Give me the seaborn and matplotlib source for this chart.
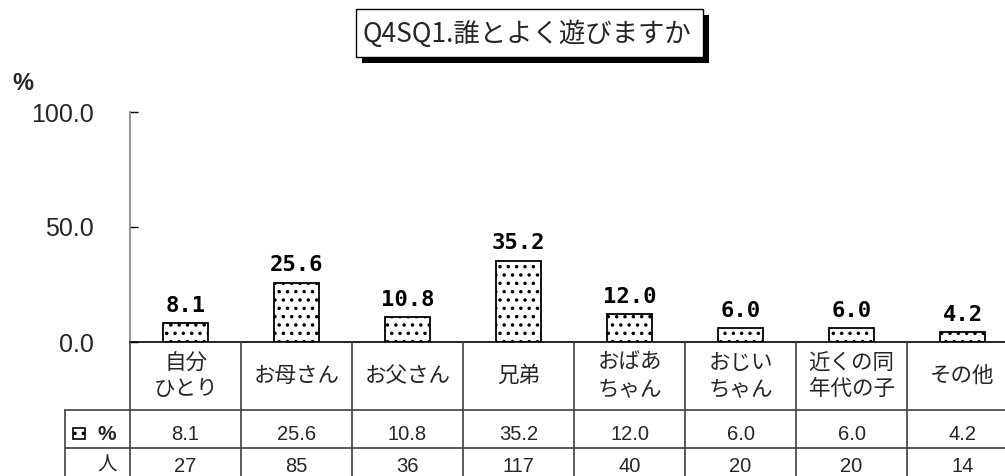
import matplotlib
matplotlib.use("Agg")
import numpy as np
import pandas as pd
import matplotlib.pyplot as plt
import matplotlib.transforms as mtransforms
from matplotlib.patches import Rectangle
from matplotlib.lines import Line2D
import seaborn as sns

# ---- data ----
categories = ["自分\nひとり", "お母さん", "お父さん", "兄弟", "おばあ\nちゃん",
              "おじい\nちゃん", "近くの同\n年代の子", "その他"]
percent = [8.1, 25.6, 10.8, 35.2, 12.0, 6.0, 6.0, 4.2]
counts = [27, 85, 36, 117, 40, 20, 20, 14]
yticks = [0, 50, 100]
title = "Q4SQ1.誰とよく遊びますか"
row_labels = ["%", "人"]

# ---- style ----
sns.set_theme(style="white")
plt.rcParams["font.family"] = ["Noto Sans CJK JP", "DejaVu Sans"]
plt.rcParams["hatch.color"] = "black"
plt.rcParams["hatch.linewidth"] = 1.3

W, H = 1005, 476
fig = plt.figure(figsize=(W / 100, H / 100), dpi=100)


def fx(px):
    return px / W


def fy(py):
    return 1 - py / H


# plot area in pixels: left edge, column width, baseline, top of scale
X0, UNIT, YB, YT = 130, 111, 342, 112
ax = fig.add_axes([fx(X0), fy(YB), 8 * UNIT / W, (YB - YT) / H])

df = pd.DataFrame({"cat": categories, "pct": percent})
sns.barplot(data=df, x="cat", y="pct", color="white", edgecolor="black",
            linewidth=1.3, width=0.41, saturation=1, ax=ax)
for p in ax.patches:
    p.set_facecolor("white")
    p.set_hatch("..")

ax.set_xlim(-0.5, 7.5)
ax.set_ylim(0, 100)
ax.set_xlabel("")
ax.set_ylabel("")
ax.set_xticks([])
ax.set_yticks(yticks)
ax.set_yticklabels([f"{t:.1f}" for t in yticks], fontfamily="Liberation Sans",
                   fontsize=18)
ax.tick_params(axis="y", direction="in", length=6, width=1, pad=26,
               color="black", left=True)
for s in ["top", "right"]:
    ax.spines[s].set_visible(False)
ax.spines["left"].set_color("#808080")
ax.spines["left"].set_linewidth(1.2)
ax.spines["bottom"].set_color("black")
ax.spines["bottom"].set_linewidth(1.2)
ax.patch.set_alpha(0)

# value labels above bars
for i, v in enumerate(percent):
    ax.annotate(f"{v:.1f}", (i, v), xytext=(0, 5.5), textcoords="offset points",
                ha="center", va="bottom", fontfamily="DejaVu Sans Mono",
                fontweight="bold", fontsize=16, color="black")

# data table under the axis
bt = mtransforms.blended_transform_factory(ax.transData, fig.transFigure)
line_kw = dict(color="#404040", linewidth=1.2)
for b in np.arange(-0.5, 8, 1.0):
    fig.add_artist(Line2D([b, b], [fy(YB), fy(H)], transform=bt, **line_kw))
for yy in [410, 448]:
    fig.add_artist(Line2D([fx(65), 1.0], [fy(yy), fy(yy)],
                          transform=fig.transFigure, **line_kw))
fig.add_artist(Line2D([fx(65), fx(65)], [fy(410), fy(H)],
                      transform=fig.transFigure, **line_kw))

for i, (c, v, n) in enumerate(zip(categories, percent, counts)):
    fig.text(i, fy(376), c, transform=bt, ha="center", va="center",
             fontsize=15.5, linespacing=1.2, multialignment="center")
    fig.text(i, fy(434), f"{v:.1f}", transform=bt, ha="center", va="center",
             fontfamily="Liberation Sans", fontsize=14.5)
    fig.text(i, fy(466), f"{n}", transform=bt, ha="center", va="center",
             fontfamily="Liberation Sans", fontsize=14.5)

# row headers
fig.add_artist(Rectangle((fx(73), fy(439)), fx(12), 11 / H, facecolor="white",
                         edgecolor="black", linewidth=1.2, hatch="..",
                         transform=fig.transFigure))
fig.text(fx(97), fy(434), row_labels[0], ha="left", va="center",
         fontfamily="Liberation Sans", fontweight="bold", fontsize=15)
fig.text(fx(107), fy(465), row_labels[1], ha="center", va="center", fontsize=14)

# unit label
fig.text(fx(12), fy(83), "%", ha="left", va="center",
         fontfamily="Liberation Sans", fontweight="bold", fontsize=17)

# title box with drop shadow
bx0, bx1, by0, by1, sh = 356, 703, 9, 57, 6
fig.add_artist(Rectangle((fx(bx0 + sh), fy(by1 + sh)), fx(bx1 - bx0),
                         (by1 - by0) / H, facecolor="black", edgecolor="none",
                         transform=fig.transFigure))
fig.add_artist(Rectangle((fx(bx0), fy(by1)), fx(bx1 - bx0), (by1 - by0) / H,
                         facecolor="white", edgecolor="black", linewidth=1.0,
                         transform=fig.transFigure))
fig.text(fx(527), fy(34), title, ha="center", va="center", fontsize=19)

fig.savefig("out.png", dpi=100)
